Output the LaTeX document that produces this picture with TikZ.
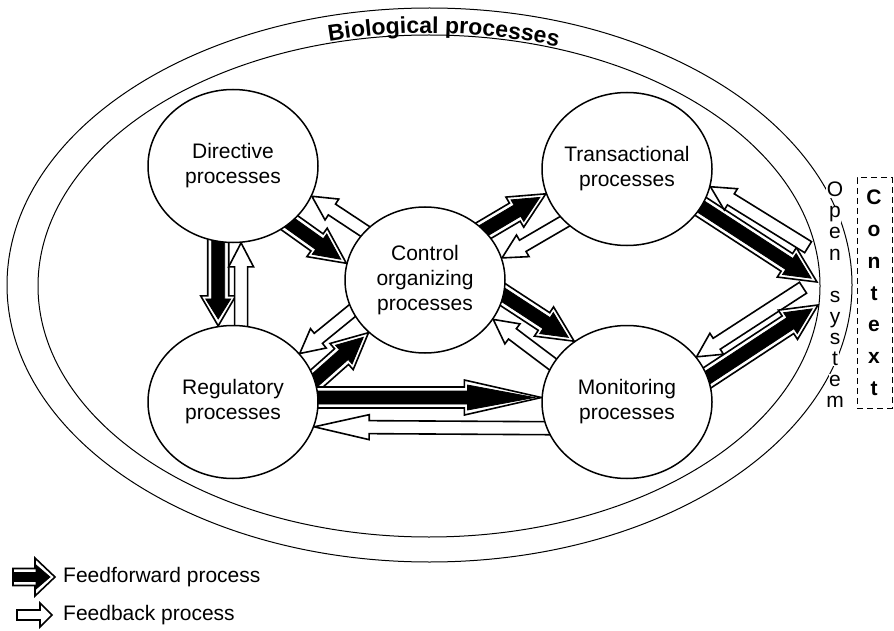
\documentclass[tikz,border=0pt]{standalone}
\usepackage{fontspec}
\setmainfont{Liberation Sans}
\usetikzlibrary{calc,shapes.geometric,decorations.text}
\pgfdeclarelayer{back}
\pgfsetlayers{back,main}
\def\titlefont{\fontsize{23}{23}\selectfont\bfseries}
\newcommand\blockarrow[6]{%
  \coordinate (ba-a) at ($(#2)!-6pt!(#3)$);
  \coordinate (ba-b) at (#3);
  \coordinate (ba-p) at ($(ba-b)!#6pt!(ba-a)$);
  \draw[#1] ($(ba-a)!#4pt!90:(ba-b)$) -- ($(ba-p)!#4pt!90:(ba-b)$) -- ($(ba-p)!#5pt!90:(ba-b)$) -- (ba-b)
    -- ($(ba-p)!#5pt!-90:(ba-b)$) -- ($(ba-p)!#4pt!-90:(ba-b)$) -- ($(ba-a)!#4pt!-90:(ba-b)$) -- cycle;}
\newcommand\ffarrow[3][36]{%
  \blockarrow{ffout}{#2}{#3}{10.5}{17.5}{#1}
  \coordinate (ff-tip) at ($(#3)!7pt!(#2)$);
  \pgfmathsetmacro\ffinlen{#1-10}
  \blockarrow{ffin}{#2}{ff-tip}{6.5}{12.5}{\ffinlen}}
\newcommand\fbarrow[3][24]{\blockarrow{fbout}{#2}{#3}{6.5}{12.5}{#1}}

\begin{document}
\begin{tikzpicture}[x=1pt,y=-1pt]
\tikzset{proc/.style={ellipse,draw,line width=1.5pt,fill=white,minimum width=170pt,minimum height=153pt,align=center,inner xsep=-6pt,inner ysep=0pt,font=\fontsize{21}{25}\selectfont},
ring/.style={ellipse,draw,line width=1pt,inner sep=0pt},
ffout/.style={draw,fill=white,line width=1.6pt,line join=miter},
ffin/.style={draw,fill=black,line width=0.8pt,line join=miter},
fbout/.style={draw,fill=white,line width=1.6pt,line join=miter},
sysletter/.style={anchor=base,fill=white,inner sep=0.6pt,font=\fontsize{21}{21}\selectfont},
ctxletter/.style={anchor=base,inner sep=0pt,font=\fontsize{21}{21}\selectfont\bfseries},
ctxbox/.style={draw,dash pattern=on 6pt off 4pt,line width=1pt,minimum width=35pt,minimum height=230pt,inner sep=0pt},
keytext/.style={anchor=west,inner sep=0pt,font=\fontsize{21}{25}\selectfont}}
\useasboundingbox (0,0) rectangle (894,631);
\node[ring,minimum width=845pt,minimum height=554pt] (outer) at (429.5,285) {};
\node[ring,minimum width=782pt,minimum height=502pt] (inner) at (429,286) {};
\begin{scope}[y=1pt]
\path[decorate,decoration={text along path,text align=center,text={|\titlefont|Biological processes}}]
  ([shift={(117.7:394 and 253)}]429,-286) arc[start angle=117.7,end angle=57.7,x radius=394,y radius=253];
\end{scope}
\node[proc] (dir) at (233,166) {Directive\\processes};
\node[proc,minimum width=160pt,minimum height=146pt] (ctl) at (425,280) {Control\\organizing\\processes};
\node[proc] (trn) at (627,169) {Transactional\\processes};
\node[proc] (reg) at (233,402) {Regulatory\\processes};
\node[proc] (mon) at (627,402) {Monitoring\\processes};
\foreach \ch/\k in {O/0,p/1,e/2,n/3,s/5,y/6,s/7,t/8,e/9,m/10}
  \node[sysletter] (os\k) at (835,{197+21*\k}) {\ch};
\node[ctxbox] (ctx) at (874.5,293) {};
\foreach \ch/\k in {C/0,o/1,n/2,t/3,e/4,x/5,t/6}
  \node[ctxletter] (cx\k) at (874,{205+31.7*\k}) {\ch};
\coordinate (ctxa) at (817,282);
\coordinate (ctxb) at (818,305);
\coordinate (ctxc) at (803,244);
\coordinate (ctxd) at (798,291);
\begin{pgfonlayer}{back}
\ffarrow[30]{dir.-101}{reg.101}
\fbarrow{reg.84.7}{dir.-84.7}
\ffarrow{dir.-45.5}{ctl.168}
\fbarrow{ctl.141}{dir.-21.2}
\ffarrow{ctl.40}{trn.-163}
\fbarrow{trn.-140.9}{ctl.16.1}
\ffarrow{ctl.-11}{mon.131.6}
\fbarrow{mon.153.7}{ctl.-30.5}
\ffarrow{reg.15.4}{ctl.-137.6}
\fbarrow{ctl.-157.4}{reg.36.7}
\ffarrow[77]{reg.3}{mon.177}
\fbarrow[55]{mon.-162.7}{reg.-17.7}
\ffarrow{trn.-27.5}{ctxa}
\fbarrow{ctxc}{trn.-12.9}
\fbarrow{ctxd}{mon.33.9}
\ffarrow{mon.17.4}{ctxb}
\end{pgfonlayer}
\coordinate (keyffa) at (19,577);
\coordinate (keyffb) at (55,577);
\coordinate (keyffc) at (50,577);
\coordinate (keyfba) at (23,615);
\coordinate (keyfbb) at (52,615);
\blockarrow{ffout}{keyffa}{keyffb}{8.5}{19}{20}
\blockarrow{ffin}{keyffa}{keyffc}{4.5}{12}{14}
\blockarrow{fbout}{keyfba}{keyfbb}{5}{12}{12}
\node[keytext] (keyff) at (63,577) {Feedforward process};
\node[keytext] (keyfb) at (63,615) {Feedback process};
\end{tikzpicture}
\end{document}
